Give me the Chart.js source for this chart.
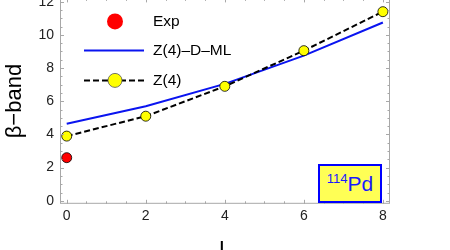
<!DOCTYPE html>
<html>
<head>
<meta charset="utf-8">
<script src="https://cdn.jsdelivr.net/npm/chart.js@4.4.1/dist/chart.umd.min.js"></script>
<style>
  html, body { margin: 0; padding: 0; background: #fff; overflow: hidden; width: 450px; height: 250px; }
  #wrap { position: absolute; left: 0; top: -16px; width: 450px; height: 284px; }
  #nucleus {
    position: absolute; left: 318px; top: 164px; width: 60px; height: 35px;
    background: #ffff55; border: 2px solid #0000ff; color: #1a1aff;
    font-family: "Liberation Sans", Arial, sans-serif; font-size: 21px;
    text-align: center; line-height: 35px;
  }
  #nucleus sup { font-size: 13px; vertical-align: 8px; line-height: 0; }
</style>
</head>
<body>
<div id="wrap"><canvas id="bandChart"></canvas></div>
<div id="nucleus"><sup>114</sup>Pd</div>
<script>
const spins = [0, 2, 4, 6, 8];
const expSpins = [0];
const expEnergy = [2.6];
const z4dml = [4.65, 5.7, 7.05, 8.75, 10.75];
const z4 = [3.9, 5.1, 6.9, 9.05, 11.4];
const xTickLabels = [0, 2, 4, 6, 8];
const yTickLabels = [0, 2, 4, 6, 8, 10, 12];

const font = "'Liberation Sans', Arial, sans-serif";
const frameColor = '#a8a8a8';

function pts(xs, ys) {
  return xs.map((x, i) => ({ x: x, y: ys[i] }));
}

function halfSteps(lo, hi) {
  const out = [];
  for (let v = lo; v <= hi + 1e-9; v += 0.5) out.push({ value: v });
  return out;
}

// frame + inward tick marks, like a Mathematica frame
const framePlugin = {
  id: 'frame',
  afterDatasetsDraw(chart) {
    const { ctx, chartArea: a, scales } = chart;
    ctx.save();
    ctx.strokeStyle = frameColor;
    ctx.lineWidth = 1;
    ctx.strokeRect(a.left + 0.5, a.top + 0.5, a.right - a.left - 1, a.bottom - a.top - 1);
    ctx.beginPath();
    scales.x.ticks.forEach(t => {
      const px = Math.round(scales.x.getPixelForValue(t.value)) + 0.5;
      const len = t.value % 2 === 0 ? 4 : 2.5;
      ctx.moveTo(px, a.bottom); ctx.lineTo(px, a.bottom - len);
      ctx.moveTo(px, a.top); ctx.lineTo(px, a.top + len);
    });
    scales.y.ticks.forEach(t => {
      const py = Math.round(scales.y.getPixelForValue(t.value)) + 0.5;
      const len = t.value % 2 === 0 ? 4 : 2.5;
      ctx.moveTo(a.left, py); ctx.lineTo(a.left + len, py);
      ctx.moveTo(a.right, py); ctx.lineTo(a.right - len, py);
    });
    ctx.stroke();
    ctx.restore();
  }
};

// legend drawn inside the plot area
const insideLegend = {
  id: 'insideLegend',
  afterDraw(chart) {
    const { ctx, chartArea: a } = chart;
    const x0 = a.left + 24, x1 = a.left + 84, xc = a.left + 55, tx = a.left + 93;
    const rows = [a.top + 23, a.top + 52, a.top + 82];
    const ds = chart.data.datasets;
    ctx.save();
    ctx.font = '15.5px ' + font;
    ctx.textBaseline = 'middle';
    ctx.fillStyle = '#000';

    // Exp
    ctx.beginPath();
    ctx.arc(xc, rows[0], 8, 0, Math.PI * 2);
    ctx.fillStyle = '#ff0000';
    ctx.fill();
    ctx.fillStyle = '#000';
    ctx.fillText(ds[0].label, tx, rows[0]);

    // Z(4)-D-ML
    ctx.beginPath();
    ctx.moveTo(x0, rows[1]); ctx.lineTo(x1, rows[1]);
    ctx.strokeStyle = '#0a14f0';
    ctx.lineWidth = 2;
    ctx.stroke();
    ctx.fillText(ds[1].label, tx, rows[1]);

    // Z(4)
    ctx.beginPath();
    ctx.setLineDash([6, 3]);
    ctx.moveTo(x0, rows[2]); ctx.lineTo(x1, rows[2]);
    ctx.strokeStyle = '#000';
    ctx.stroke();
    ctx.setLineDash([]);
    ctx.beginPath();
    ctx.arc(xc, rows[2], 7, 0, Math.PI * 2);
    ctx.fillStyle = '#ffff00';
    ctx.fill();
    ctx.lineWidth = 0.8;
    ctx.strokeStyle = '#555';
    ctx.stroke();
    ctx.fillStyle = '#000';
    ctx.fillText(ds[2].label, tx, rows[2]);
    ctx.restore();
  }
};

new Chart(document.getElementById('bandChart'), {
  type: 'line',
  data: {
    datasets: [
      {
        label: 'Exp',
        data: pts(expSpins, expEnergy),
        showLine: false,
        pointRadius: 5,
        pointBackgroundColor: '#ff0000',
        pointBorderColor: '#000',
        pointBorderWidth: 0.8,
        order: 1
      },
      {
        label: 'Z(4)\u2013D\u2013ML',
        data: pts(spins, z4dml),
        borderColor: '#0a14f0',
        borderWidth: 2,
        pointRadius: 0,
        order: 3
      },
      {
        label: 'Z(4)',
        data: pts(spins, z4),
        borderColor: '#000',
        borderWidth: 2,
        borderDash: [6, 3],
        pointRadius: 5,
        pointBackgroundColor: '#ffff00',
        pointBorderColor: '#000',
        pointBorderWidth: 0.8,
        order: 2
      }
    ]
  },
  options: {
    responsive: true,
    maintainAspectRatio: false,
    animation: false,
    layout: { padding: { left: 0, right: 60, top: 0, bottom: 0 } },
    scales: {
      x: {
        type: 'linear',
        min: -0.17,
        max: 8.18,
        afterBuildTicks: s => { s.ticks = halfSteps(0, 8); },
        grid: { display: false, drawTicks: false },
        border: { display: false },
        ticks: {
          autoSkip: false,
          maxRotation: 0,
          padding: 4,
          color: '#222',
          font: { family: font, size: 14 },
          callback: v => xTickLabels.includes(v) ? String(v) : ''
        },
        title: {
          display: true,
          text: 'L',
          color: '#000',
          font: { family: font, size: 22 },
          padding: { top: 8, bottom: 5 }
        }
      },
      y: {
        min: -0.18,
        max: 12.2,
        afterBuildTicks: s => { s.ticks = halfSteps(0, 12); },
        afterFit: s => { s.width = 60; },
        grid: { display: false, drawTicks: false },
        border: { display: false },
        ticks: {
          autoSkip: false,
          padding: 6,
          color: '#222',
          font: { family: font, size: 14 },
          callback: v => yTickLabels.includes(v) ? String(v) : ''
        },
        title: {
          display: true,
          text: '\u03b2\u2212band',
          color: '#000',
          font: { family: font, size: 22 },
          padding: { top: 2, bottom: 0 }
        }
      }
    },
    plugins: {
      legend: { display: false },
      tooltip: { enabled: false }
    }
  },
  plugins: [framePlugin, insideLegend]
});
</script>
</body>
</html>
